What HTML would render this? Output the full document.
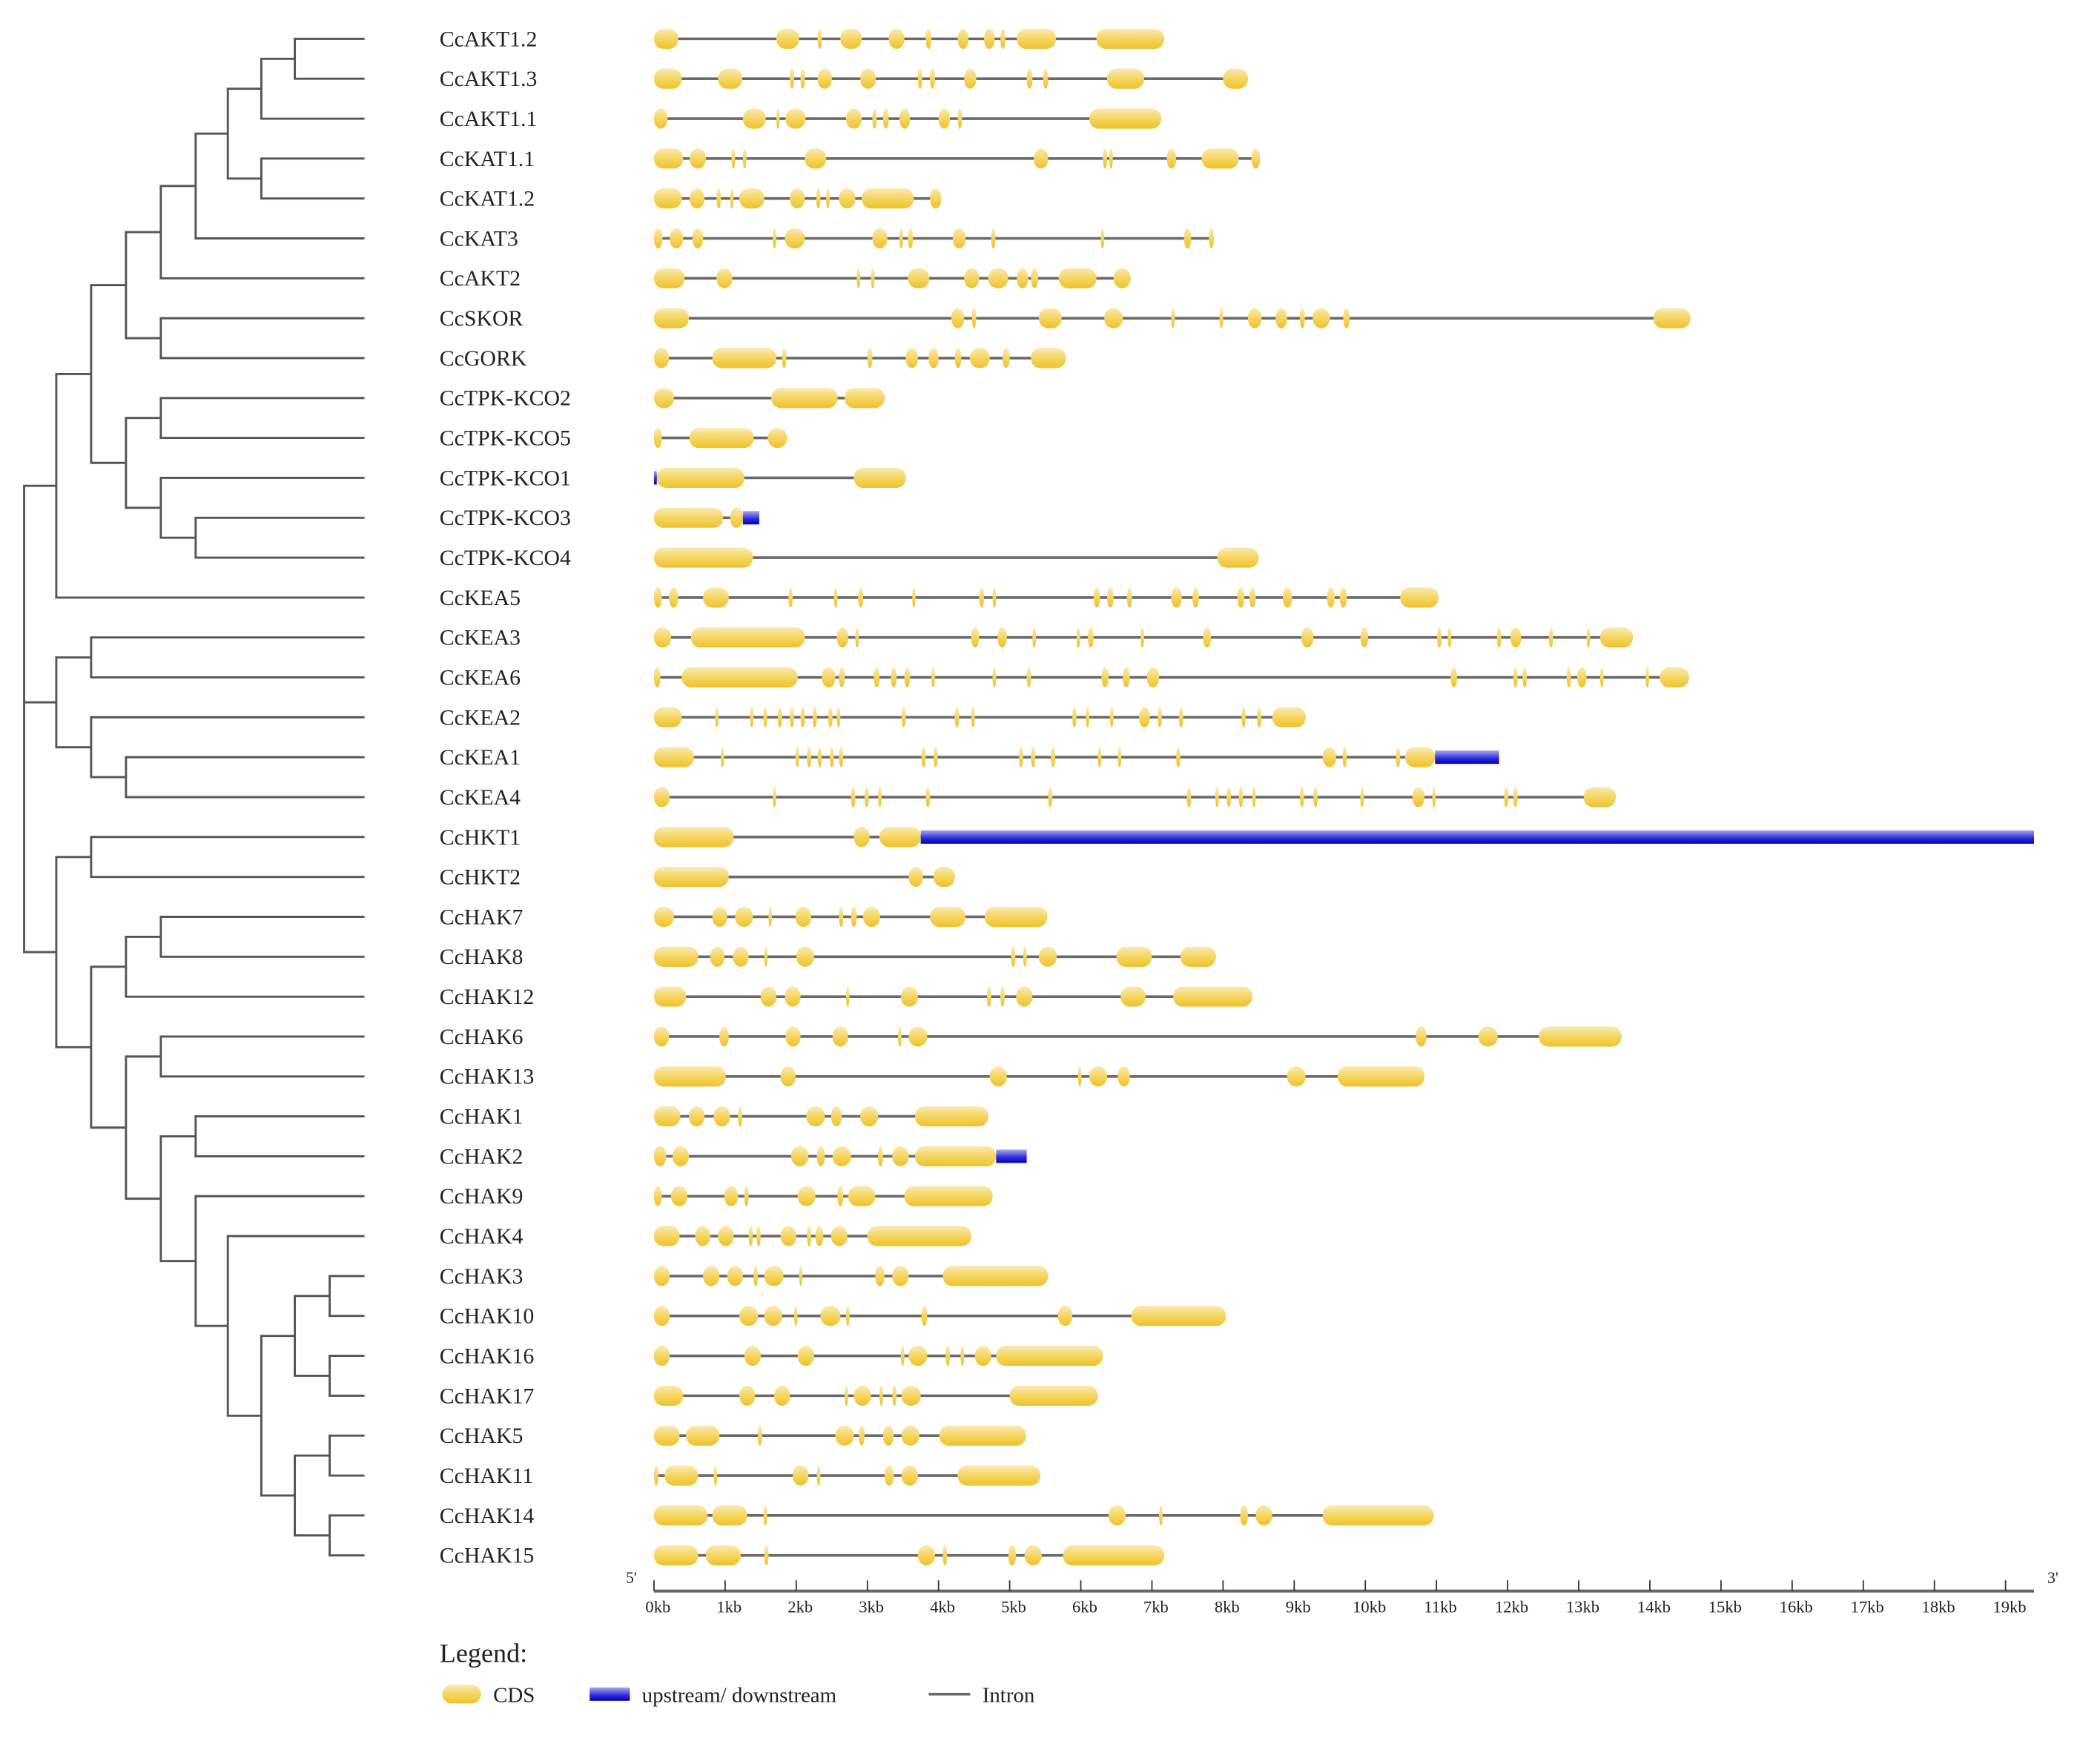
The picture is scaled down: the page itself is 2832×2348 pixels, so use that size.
<!DOCTYPE html>
<html><head><meta charset="utf-8"><style>
html,body{margin:0;padding:0;background:#fff;}
svg{display:block;}
text{font-family:"Liberation Serif",serif;fill:#222;}
</style></head><body>
<svg id="chart" width="2832" height="2348" viewBox="0 0 1567 1300" preserveAspectRatio="none" xmlns="http://www.w3.org/2000/svg">
<defs>
<linearGradient id="gy" x1="0" y1="0" x2="0" y2="1"><stop offset="0" stop-color="#fbeab0"/><stop offset="0.55" stop-color="#f5d45c"/><stop offset="1" stop-color="#efc22c"/></linearGradient>
<linearGradient id="gb" x1="0" y1="0" x2="0" y2="1"><stop offset="0" stop-color="#a8a8f0"/><stop offset="0.6" stop-color="#2a2ad8"/><stop offset="1" stop-color="#0000c0"/></linearGradient>
</defs>
<g id="tree"></g>
<g id="labels"></g>
<g id="genes"></g>
<g id="axis"></g>
<g>
<text x="328" y="1241" font-size="20">Legend:</text>
<rect x="330" y="1258" width="29" height="14" rx="7" fill="url(#gy)"/>
<text x="368" y="1271" font-size="16">CDS</text>
<rect x="440" y="1260" width="30" height="10" fill="url(#gb)"/>
<text x="479" y="1271" font-size="16">upstream/ downstream</text>
<line x1="693" y1="1265" x2="724" y2="1265" stroke="#6a6a6a" stroke-width="2"/>
<text x="733" y="1271" font-size="16">Intron</text>
</g>
</svg>
<script>
const names=["CcAKT1.2","CcAKT1.3","CcAKT1.1","CcKAT1.1","CcKAT1.2","CcKAT3","CcAKT2","CcSKOR","CcGORK","CcTPK-KCO2","CcTPK-KCO5","CcTPK-KCO1","CcTPK-KCO3","CcTPK-KCO4","CcKEA5","CcKEA3","CcKEA6","CcKEA2","CcKEA1","CcKEA4","CcHKT1","CcHKT2","CcHAK7","CcHAK8","CcHAK12","CcHAK6","CcHAK13","CcHAK1","CcHAK2","CcHAK9","CcHAK4","CcHAK3","CcHAK10","CcHAK16","CcHAK17","CcHAK5","CcHAK11","CcHAK14","CcHAK15"];
// exons in kb [start,end]
const exons=[
[[0,.34],[1.72,2.04],[2.3,2.36],[2.62,2.92],[3.3,3.52],[3.82,3.9],[4.27,4.42],[4.64,4.79],[4.87,4.94],[5.1,5.65],[6.22,7.17]],
[[0,.39],[.9,1.24],[1.91,1.97],[2.06,2.12],[2.3,2.5],[2.9,3.12],[3.71,3.77],[3.88,3.95],[4.36,4.53],[5.24,5.32],[5.47,5.54],[6.37,6.89],[8.0,8.35]],
[[0,.19],[1.25,1.57],[1.72,1.76],[1.85,2.13],[2.7,2.92],[3.07,3.13],[3.22,3.3],[3.45,3.6],[4.0,4.16],[4.27,4.33],[6.12,7.13]],
[[0,.41],[.5,.73],[1.09,1.14],[1.25,1.3],[2.12,2.42],[5.34,5.54],[6.31,6.37],[6.4,6.45],[7.21,7.34],[7.7,8.22],[8.4,8.52]],
[[0,.39],[.5,.71],[.88,.94],[1.07,1.11],[1.2,1.55],[1.91,2.12],[2.28,2.34],[2.42,2.47],[2.6,2.83],[2.92,3.65],[3.88,4.04]],
[[0,.12],[.22,.41],[.54,.69],[1.67,1.72],[1.84,2.12],[3.07,3.28],[3.45,3.5],[3.57,3.64],[4.2,4.38],[4.74,4.8],[6.28,6.33],[7.45,7.55],[7.8,7.87]],
[[0,.43],[.88,1.1],[2.85,2.9],[3.05,3.1],[3.57,3.87],[4.36,4.57],[4.7,4.98],[5.1,5.26],[5.3,5.4],[5.69,6.22],[6.46,6.7]],
[[0,.49],[4.18,4.36],[4.47,4.53],[5.41,5.73],[6.33,6.59],[7.27,7.32],[7.95,8.0],[8.35,8.54],[8.74,8.9],[9.08,9.15],[9.26,9.5],[9.69,9.78],[14.05,14.57]],
[[0,.21],[.82,1.72],[1.8,1.86],[3.0,3.07],[3.54,3.71],[3.86,4.0],[4.23,4.32],[4.44,4.72],[4.9,5.0],[5.3,5.79]],
[[0,.28],[1.65,2.58],[2.68,3.24]],
[[0,.11],[.5,1.4],[1.6,1.87]],
[[.04,1.27],[2.81,3.54]],
[[0,.97],[1.07,1.25]],
[[0,1.39],[7.92,8.5]],
[[0,.11],[.21,.34],[.69,1.05],[1.89,1.95],[2.53,2.58],[2.87,2.94],[3.63,3.67],[4.57,4.64],[4.76,4.81],[6.18,6.27],[6.37,6.46],[6.65,6.72],[7.27,7.42],[7.57,7.66],[8.2,8.3],[8.37,8.46],[8.84,8.97],[9.46,9.57],[9.64,9.74],[10.49,11.03]],
[[0,.24],[.52,2.12],[2.57,2.73],[2.83,2.88],[4.46,4.57],[4.83,4.96],[5.32,5.37],[5.94,5.99],[6.1,6.18],[6.84,6.89],[7.72,7.83],[9.1,9.27],[9.93,10.04],[11.01,11.07],[11.16,11.2],[11.85,11.91],[12.04,12.19],[12.58,12.64],[13.11,13.16],[13.3,13.76]],
[[0,.09],[.39,2.02],[2.36,2.55],[2.6,2.68],[3.09,3.17],[3.33,3.41],[3.52,3.6],[3.9,3.95],[4.76,4.81],[5.24,5.3],[6.29,6.39],[6.59,6.69],[6.93,7.1],[11.2,11.29],[12.08,12.14],[12.21,12.27],[12.83,12.89],[12.98,13.11],[13.3,13.35],[13.94,13.99],[14.14,14.55]],
[[0,.39],[.86,.9],[1.35,1.4],[1.54,1.59],[1.74,1.8],[1.91,1.97],[2.06,2.12],[2.23,2.29],[2.45,2.51],[2.57,2.62],[3.48,3.54],[4.23,4.29],[4.46,4.51],[5.88,5.94],[6.07,6.12],[6.41,6.46],[6.82,6.97],[7.08,7.14],[7.38,7.44],[8.26,8.32],[8.48,8.54],[8.69,9.16]],
[[0,.56],[.94,.97],[1.99,2.04],[2.15,2.21],[2.3,2.36],[2.47,2.53],[2.6,2.66],[3.76,3.82],[3.93,3.99],[5.13,5.19],[5.3,5.36],[5.58,5.64],[6.24,6.29],[6.52,6.57],[7.34,7.4],[9.4,9.59],[9.68,9.74],[10.43,10.49],[10.56,10.98]],
[[0,.22],[1.67,1.7],[2.77,2.83],[2.96,3.02],[3.15,3.2],[3.82,3.88],[5.54,5.6],[7.49,7.55],[7.89,7.94],[8.05,8.11],[8.22,8.28],[8.41,8.46],[9.08,9.14],[9.27,9.33],[9.93,9.98],[10.66,10.83],[10.94,10.99],[11.95,12.01],[12.08,12.14],[13.07,13.52]],
[[0,1.12],[2.81,3.03],[3.17,3.75]],
[[0,1.05],[3.58,3.78],[3.93,4.23]],
[[0,.28],[.82,1.03],[1.14,1.39],[1.61,1.65],[1.99,2.21],[2.6,2.66],[2.77,2.85],[2.94,3.18],[3.88,4.38],[4.65,5.53]],
[[0,.62],[.79,.99],[1.11,1.33],[1.55,1.59],[2.0,2.25],[5.02,5.08],[5.19,5.24],[5.41,5.66],[6.5,7.0],[7.4,7.9]],
[[0,.45],[1.5,1.72],[1.84,2.06],[2.7,2.73],[3.47,3.71],[4.68,4.74],[4.87,4.93],[5.09,5.32],[6.56,6.91],[7.3,8.41]],
[[0,.21],[.92,1.05],[1.85,2.06],[2.51,2.73],[3.43,3.48],[3.58,3.84],[10.71,10.86],[11.59,11.86],[12.44,13.6]],
[[0,1.01],[1.78,1.99],[4.72,4.96],[5.96,6.01],[6.12,6.37],[6.52,6.69],[8.9,9.16],[9.61,10.83]],
[[0,.37],[.49,.71],[.84,1.07],[1.18,1.24],[2.14,2.4],[2.49,2.64],[2.9,3.15],[3.67,4.7]],
[[0,.17],[.26,.49],[1.93,2.17],[2.29,2.4],[2.51,2.77],[3.15,3.22],[3.35,3.58],[3.67,4.81]],
[[0,.11],[.24,.47],[.99,1.18],[1.27,1.33],[2.02,2.27],[2.58,2.66],[2.73,3.11],[3.52,4.76]],
[[0,.36],[.58,.79],[.9,1.12],[1.33,1.39],[1.44,1.5],[1.78,2.0],[2.15,2.21],[2.27,2.38],[2.49,2.72],[3.0,4.46]],
[[0,.22],[.69,.92],[1.03,1.25],[1.4,1.46],[1.55,1.82],[2.04,2.08],[3.11,3.24],[3.35,3.58],[4.06,5.54]],
[[0,.22],[1.2,1.46],[1.55,1.8],[1.97,2.0],[2.34,2.62],[2.7,2.75],[3.76,3.84],[5.68,5.88],[6.71,8.04]],
[[0,.22],[1.27,1.5],[2.02,2.25],[3.47,3.52],[3.58,3.84],[4.1,4.16],[4.31,4.36],[4.51,4.74],[4.81,6.31]],
[[0,.41],[1.2,1.42],[1.69,1.91],[2.68,2.73],[2.81,3.05],[3.17,3.22],[3.35,3.41],[3.48,3.75],[5.0,6.24]],
[[0,.36],[.45,.92],[1.46,1.52],[2.55,2.81],[2.88,2.96],[3.22,3.37],[3.48,3.73],[4.01,5.23]],
[[0,.06],[.15,.62],[.84,.88],[1.95,2.17],[2.29,2.34],[3.24,3.37],[3.48,3.71],[4.27,5.43]],
[[0,.75],[.82,1.31],[1.54,1.59],[6.39,6.63],[7.1,7.15],[8.24,8.35],[8.46,8.69],[9.4,10.96]],
[[0,.62],[.73,1.22],[1.55,1.61],[3.71,3.95],[4.06,4.12],[4.98,5.09],[5.21,5.45],[5.75,7.17]]
];
// upstream/downstream regions
const utrGene=[11,12,18,20,28];
const utrStart=[0,1.25,10.98,3.75,4.81];
const utrEnd=[.04,1.48,11.88,19.4,5.24];
const tickLabels=["0kb","1kb","2kb","3kb","4kb","5kb","6kb","7kb","8kb","9kb","10kb","11kb","12kb","13kb","14kb","15kb","16kb","17kb","18kb","19kb"];
const tickValues=[0,1,2,3,4,5,6,7,8,9,10,11,12,13,14,15,16,17,18,19];
const axisMaxKb=19.4;
// tree: [depthX, children...], leaves are gene indices
const tree=[18,
 [42,[68,[94,[120,[146,[170,[195,[220,0,1],2],[195,3,4]],5],6],[120,7,8]],[94,[120,9,10],[120,11,[146,12,13]]]],14],
 [42,[68,15,16],[68,17,[94,18,19]]],
 [42,[68,20,21],[68,[94,[120,22,23],24],[94,[120,25,26],[120,[146,27,28],[146,29,[170,30,[195,[220,[246,31,32],[246,33,34]],[220,[246,35,36],[246,37,38]]]]]]]]]
];

const NS="http://www.w3.org/2000/svg";
const X0=488, KB=53.08, Y0=29, DY=29.8, LEAFX=272;
const xs=v=>X0+v*KB;
const ys=i=>Y0+i*DY;
function mk(tag,attrs,parent){const e=document.createElementNS(NS,tag);for(const k in attrs)e.setAttribute(k,attrs[k]);parent.appendChild(e);return e;}

const gTree=document.getElementById('tree');
function drawNode(n){
  if(typeof n==='number'){return {y:ys(n),leaf:true};}
  const x=n[0];const kids=n.slice(1).map(drawNode);
  const yy=kids.map(k=>k.y);
  const v=mk('line',{x1:x,y1:Math.min(...yy),x2:x,y2:Math.max(...yy),stroke:'#555','stroke-width':1.6},gTree);
  
  
  kids.forEach(k=>{
    const h=mk('line',{x1:x-0.8,y1:k.y,x2:k.leaf?LEAFX:k.nx,y2:k.y,stroke:'#555','stroke-width':1.6},gTree);
    
    
  });
  return {y:(Math.min(...yy)+Math.max(...yy))/2,nx:x,leaf:false};
}
drawNode(tree);

const gL=document.getElementById('labels');
const gG=document.getElementById('genes');
names.forEach((nm,i)=>{
  const t=mk('text',{x:328,y:ys(i)+5.5,'font-size':16.5},gL);
  t.textContent=nm;
  
  
  const ex=exons[i];
  let lo=Math.min(...ex.map(e=>e[0])),hi=Math.max(...ex.map(e=>e[1]));
  utrGene.forEach((g,j)=>{if(g===i){lo=Math.min(lo,utrStart[j]);hi=Math.max(hi,utrEnd[j]);}});
  const ln=mk('line',{x1:xs(lo),y1:ys(i),x2:xs(hi),y2:ys(i),stroke:'#6a6a6a','stroke-width':2},gG);
  
  
  ex.forEach(e=>{
    const w=Math.max(2.5,xs(e[1])-xs(e[0]));
    const r=mk('rect',{x:xs(e[0]),y:ys(i)-7.5,width:w,height:15,rx:Math.min(w/2,7),ry:7,fill:'url(#gy)'},gG);
    
    
  });
});
utrGene.forEach((g,j)=>{
  const r=mk('rect',{x:xs(utrStart[j]),y:ys(g)-5,width:Math.max(2,xs(utrEnd[j])-xs(utrStart[j])),height:10,fill:'url(#gb)'},gG);
  
  
});

const gA=document.getElementById('axis');
const al=mk('line',{x1:xs(0),y1:1188,x2:xs(axisMaxKb),y2:1188,stroke:'#666','stroke-width':2.2},gA);


tickValues.forEach((v,i)=>{
  const tk=mk('line',{x1:xs(v),y1:1180,x2:xs(v),y2:1188,stroke:'#333','stroke-width':1},gA);
  
  
  const tl=mk('text',{x:xs(v)+3,y:1204,'font-size':12.5,'text-anchor':'middle'},gA);
  tl.textContent=tickLabels[i];
  
  
});
const p5=mk('text',{x:467,y:1182,'font-size':12},gA);p5.textContent="5'";


const p3=mk('text',{x:xs(axisMaxKb)+10,y:1182,'font-size':12},gA);p3.textContent="3'";


</script>
</body></html>
